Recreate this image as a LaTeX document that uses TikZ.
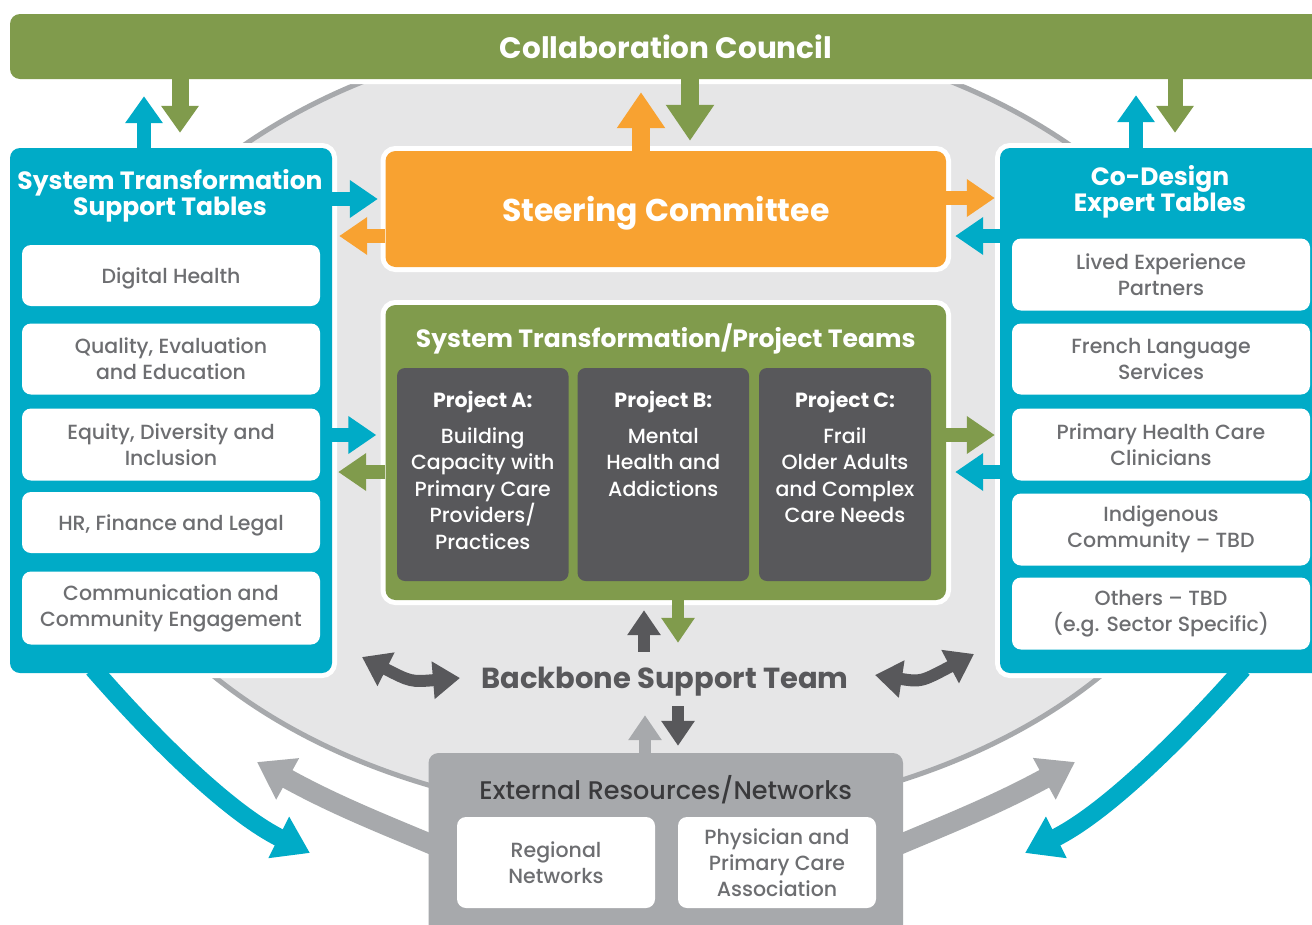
\documentclass[tikz,border=0pt]{standalone}
\usepackage{fontspec}
\setmainfont{Poppins}[UprightFont=* Medium, BoldFont=* Bold]
\usetikzlibrary{arrows.meta}
\definecolor{cgreen}{HTML}{809B4C}
\definecolor{cteal}{HTML}{00ABC7}
\definecolor{corange}{HTML}{F8A231}
\definecolor{cdark}{HTML}{58585B}
\definecolor{clgrey}{HTML}{A7A9AC}
\definecolor{cell}{HTML}{E6E6E7}
\definecolor{ctext}{HTML}{6D6E71}
\definecolor{cext}{HTML}{3A3A3C}
\begin{document}
\begin{tikzpicture}[x=1pt,y=-1pt,
  wb/.style={preaction={draw=white,line width=10pt}},
  box/.style={fill=#1, rounded corners=10pt, inner sep=0pt, draw=none},
  wbox/.style={fill=white, rounded corners=9pt, inner sep=0pt, text=ctext,
    font=\fontsize{20.5}{26}\selectfont, align=center, minimum width=298pt},
  dbox/.style={fill=cdark, rounded corners=8pt, inner sep=0pt},
  hd/.style={text=white, font=\bfseries\fontsize{25}{26}\selectfont, align=center, inner sep=0pt},
  ptxt/.style={text=white, font=\fontsize{20.5}{26.4}\selectfont, align=center, inner sep=0pt, anchor=north},
  a18/.style={line width=18pt, -{Triangle[length=36pt,width=46pt]}},
  a14/.style={line width=14pt, -{Triangle[length=27pt,width=36pt]}},
  aside/.style={line width=14pt, -{Triangle[length=28pt,width=36pt]}},
  asmall/.style={line width=12pt, -{Triangle[length=25pt,width=32pt]}},
  adbl/.style={line width=12pt, {Triangle[length=27pt,width=36pt]}-{Triangle[length=27pt,width=36pt]}},
  acurve/.style={line width=18pt, -{Triangle[length=35pt,width=44pt]}},
  agrey/.style={line width=20pt, -{Triangle[length=35pt,width=45pt]}}
]
\useasboundingbox (0,0) rectangle (1312,924);
\clip (0,0) rectangle (1312,924);
\fill[white] (0,0) rectangle (1312,924);
% background ellipse
\filldraw[fill=cell, draw=clgrey, line width=5pt] (657,422) ellipse [x radius=579pt, y radius=395pt];

% council bar
\node[box=cgreen, wb, minimum width=1312pt, minimum height=65pt, text=white, text depth=0pt,
  font=\bfseries\fontsize{29.5}{30}\selectfont] (council) at (666,46.5) {Collaboration Council};

% left panel
\node[box=cteal, wb, minimum width=322pt, minimum height=525pt] (lp) at (171,410.5) {};
\node[hd] (lpt) at (170,196) {System Transformation\\Support Tables};
\node[wbox, minimum height=61pt, text depth=0pt] (dh) at (171,275.5) {Digital Health};
\node[wbox, minimum height=71pt] (qee) at (171,359) {Quality, Evaluation\\and Education};
\node[wbox, minimum height=72pt] (edi) at (171,444.5) {Equity, Diversity and\\Inclusion};
\node[wbox, minimum height=61pt, text depth=0pt] (hr) at (171,522.5) {HR, Finance and Legal};
\node[wbox, minimum height=73pt] (cce) at (171,608) {Communication and\\Community Engagement};

% right panel
\node[box=cteal, wb, minimum width=330pt, minimum height=525pt] (rp) at (1165,410.5) {};
\node[hd] (rpt) at (1160,192) {Co-Design\\Expert Tables};
\node[wbox, minimum height=72pt] (lep) at (1161,274.5) {Lived Experience\\Partners};
\node[wbox, minimum height=71pt] (fls) at (1161,359) {French Language\\Services};
\node[wbox, minimum height=72pt] (phc) at (1161,444.5) {Primary Health Care\\Clinicians};
\node[wbox, minimum height=72pt] (ic) at (1161,529.5) {Indigenous\\Community – TBD};
\node[wbox, minimum height=72pt] (ot) at (1161,613.5) {Others – TBD\\(e.g. Sector Specific)};

% steering committee
\node[box=corange, wb, minimum width=560.5pt, minimum height=116pt, text=white, text depth=0pt,
  font=\bfseries\fontsize{31.5}{32}\selectfont] (steer) at (665.75,209) {Steering Committee};

% project teams
\node[box=cgreen, wb, minimum width=560.5pt, minimum height=295pt] (proj) at (665.75,452.5) {};
\node[hd, font=\bfseries\fontsize{25}{26}\selectfont, text depth=0pt] (projt) at (665.75,335.5) {System Transformation/Project Teams};
\node[dbox, minimum width=171.5pt, minimum height=213pt] (pa) at (482.75,474.5) {};
\node[dbox, minimum width=171.5pt, minimum height=213pt] (pb) at (663.3,474.5) {};
\node[dbox, minimum width=172pt, minimum height=213pt] (pc) at (845,474.5) {};
\node[ptxt] (pat) at (482.75,391) {\textbf{Project A:}\\[9.5pt]Building\\Capacity with\\Primary Care\\Providers/\\Practices};
\node[ptxt] (pbt) at (663.3,391) {\textbf{Project B:}\\[9.5pt]Mental\\Health and\\Addictions};
\node[ptxt] (pct) at (845,391) {\textbf{Project C:}\\[9.5pt]Frail\\Older Adults\\and Complex\\Care Needs};

% backbone
\node[font=\bfseries\fontsize{29}{30}\selectfont, text=cdark, minimum height=44pt, inner sep=0pt, text depth=0pt] (bb) at (665,678) {Backbone Support Team};

% external resources
\node[box=clgrey, minimum width=474.5pt, minimum height=187pt] (ext) at (665.75,846.5) {};
\node[text=cext, font=\fontsize{25.5}{26}\selectfont, inner sep=0pt, text depth=0pt] (extt) at (665.75,787.5) {External Resources/Networks};
\node[wbox, minimum width=198pt, minimum height=91pt] (reg) at (556,862.5) {Regional\\Networks};
\node[wbox, minimum width=198pt, minimum height=91pt] (phy) at (777,862.5) {Physician and\\Primary Care\\Association};

% vertical arrows at the top
\draw[a14, cteal, shorten >=17pt] (144,0 |- lp.north) -- (144,0 |- council.south);
\draw[a14, cgreen, line width=17pt, shorten >=15pt] (180,0 |- council.south) -- (180,0 |- lp.north);
\draw[a18, corange, shorten >=13pt] (641,0 |- steer.north) -- (641,0 |- council.south);
\draw[a18, cgreen, shorten >=10pt] (690,0 |- council.south) -- (690,0 |- steer.north);
\draw[a14, cteal, shorten >=16pt] (1136,0 |- rp.north) -- (1136,0 |- council.south);
\draw[a14, cgreen, line width=15pt, shorten >=15pt] (1175,0 |- council.south) -- (1175,0 |- rp.north);

% side arrows
\draw[aside, cteal, shorten >=7.5pt] (lp.east |- 0,199) -- (steer.west |- 0,199);
\draw[aside, corange, shorten >=7pt] (steer.west |- 0,236) -- (lp.east |- 0,236);
\draw[aside, corange, shorten >=5pt] (steer.east |- 0,198) -- (rp.west |- 0,198);
\draw[aside, cteal, shorten >=9pt] (rp.west |- 0,236) -- (steer.east |- 0,236);
\draw[aside, cteal, shorten >=9pt] (lp.east |- 0,435) -- (proj.west |- 0,435);
\draw[aside, cgreen, shorten >=6pt] (proj.west |- 0,472) -- (lp.east |- 0,472);
\draw[aside, cgreen, shorten >=5pt] (proj.east |- 0,435) -- (rp.west |- 0,435);
\draw[aside, cteal, shorten >=9pt] (rp.west |- 0,472) -- (proj.east |- 0,472);

% centre arrows
\draw[asmall, cgreen, shorten >=13pt] (678,0 |- proj.south) -- (678,0 |- bb.north);
\draw[asmall, cdark, shorten <=4pt, shorten >=10pt] (644,0 |- bb.north) -- (644,0 |- proj.south);
\draw[asmall, cdark, shorten <=6pt, shorten >=7pt] (678,0 |- bb.south) -- (678,0 |- ext.north);
\draw[asmall, clgrey, shorten >=15pt] (645,0 |- ext.north) -- (645,0 |- bb.south);

% double curved arrows
\coordinate (dl1) at (362,657);
\coordinate (dl2) at (460,678);
\draw[adbl, cdark] (dl1) .. controls (411,682) .. (dl2);
\coordinate (dr1) at (875,675);
\coordinate (dr2) at (974,654);
\draw[adbl, cdark] (dr1) .. controls (921,682) .. (dr2);

% teal curves
\coordinate (tl) at (310,853);
\draw[acurve, cteal, shorten <=-6pt] (97,0 |- lp.south) .. controls (157,742) and (230,813) .. (tl);
\coordinate (tr) at (1025,853);
\draw[acurve, cteal, shorten <=-6pt] (1239,0 |- rp.south) .. controls (1178,742) and (1105,813) .. (tr);

% grey curves
\coordinate (gl) at (257,762);
\draw[agrey, clgrey, shorten <=-6pt] (ext.west |- 0,843) .. controls (378,822) and (333,804) .. (gl);
\coordinate (gr) at (1075,762);
\draw[agrey, clgrey, shorten <=-6pt] (ext.east |- 0,843) .. controls (953,822) and (998,804) .. (gr);
\end{tikzpicture}
\end{document}
